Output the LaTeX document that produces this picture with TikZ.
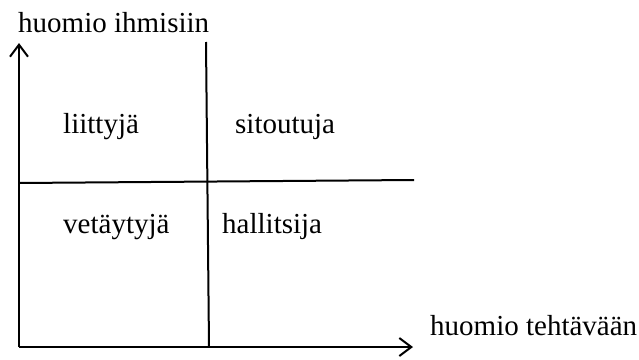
\documentclass[tikz,border=0pt]{standalone}
\usepackage{fontspec}
\setmainfont{Liberation Serif}
\usetikzlibrary{arrows.meta}
\begin{document}
\begin{tikzpicture}[x=1pt,y=-1pt,
  lbl/.style={inner sep=0pt,anchor=base west,font=\fontsize{29}{34}\selectfont},
  ln/.style={line width=2pt,black},
  ax/.style={ln,-{Straight Barb[length=12pt,width=18pt,line width=2pt]}}]
\useasboundingbox (0,0) rectangle (639,359);
\coordinate (O) at (19,347);
\coordinate (Ytop) at (19,43);
\coordinate (Xend) at (413,347);
\coordinate (Vt) at (206,42);
\coordinate (Vb) at (209,347);
\coordinate (Hl) at (19,183);
\coordinate (Hr) at (414,180);
\draw[ax] (O) -- (Ytop);
\draw[ax] (O) -- (Xend);
\draw[ln] (Vt) -- (Vb);
\draw[ln] (Hl) -- (Hr);
\node[lbl] (ty) at (18,32) {huomio ihmisiin};
\node[lbl] (tx) at (430,335) {huomio tehtävään};
\node[lbl] (q1) at (63,133) {liittyjä};
\node[lbl] (q2) at (235,133) {sitoutuja};
\node[lbl] (q3) at (63,233) {vetäytyjä};
\node[lbl] (q4) at (222,233) {hallitsija};
\end{tikzpicture}
\end{document}
